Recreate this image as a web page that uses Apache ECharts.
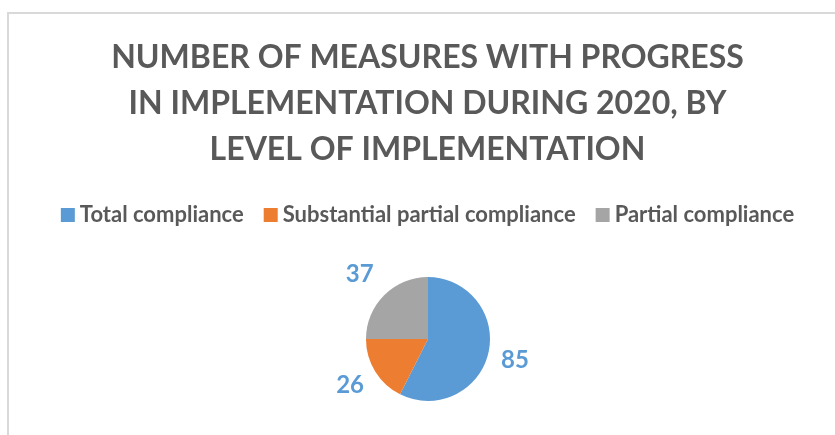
<!DOCTYPE html>
<html>
<head>
	<meta charset="utf-8">
	<title>Measures by level of implementation</title>
	<script src="https://cdn.jsdelivr.net/npm/echarts@6/dist/echarts.min.js"></script>
	<style>
		body { margin: 0; background: #fff; overflow: hidden; }
		#frame { position: absolute; left: 7px; top: 12px; width: 840px; height: 440px; border-left: 2px solid #d9d9d9; border-top: 2px solid #d9d9d9; }
		/* a bit wider than the window so that 'center' lands where the original plot area centre is */
		#main { position: absolute; left: 0; top: 0; width: 855px; height: 435px; }
	</style>
</head>
<body>
<div id="frame"></div>
<div id="main"></div>
<script>
	// categories and values
	var categories = ['Total compliance', 'Substantial partial compliance', 'Partial compliance'];
	var values = [85, 26, 37];
	var colors = ['#5b9bd5', '#ed7d31', '#a5a5a5'];
	// small nudges so the value labels sit where Excel put them
	var labelOffsets = [[-4, 4], [4, 7], [3, -12]];

	var chart = echarts.init(document.getElementById('main'));

	var data = [];
	for (var i = 0; i < categories.length; i++) {
		data.push({
			name: categories[i],
			value: values[i],
			itemStyle: { color: colors[i] },
			label: { offset: labelOffsets[i] }
		});
	}

	var option = {
		backgroundColor: 'transparent',
		title: {
			text: 'NUMBER OF MEASURES WITH PROGRESS\nIN IMPLEMENTATION DURING 2020, BY\nLEVEL OF IMPLEMENTATION',
			left: 'center',
			top: 30,
			textStyle: {
				fontFamily: 'Lato',
				fontWeight: 'bold',
				fontSize: 32,
				lineHeight: 46,
				color: '#595959'
			}
		},
		legend: {
			data: categories,
			top: 199,
			left: 'center',
			itemWidth: 14,
			itemHeight: 14,
			itemGap: 20,
			icon: 'rect',
			textStyle: {
				fontFamily: 'Lato',
				fontWeight: 'bold',
				fontSize: 22,
				color: '#595959'
			}
		},
		series: [{
			type: 'pie',
			center: [428, 339],
			radius: 62,
			startAngle: 90,
			clockwise: true,
			data: data,
			label: {
				show: true,
				position: 'outside',
				formatter: '{c}',
				fontFamily: 'Lato',
				fontWeight: 'bold',
				fontSize: 24,
				color: '#5b9bd5'
			},
			labelLine: { show: false, length: 12, length2: 0 },
			emphasis: { disabled: true }
		}]
	};
	chart.setOption(option);
</script>
</body>
</html>
